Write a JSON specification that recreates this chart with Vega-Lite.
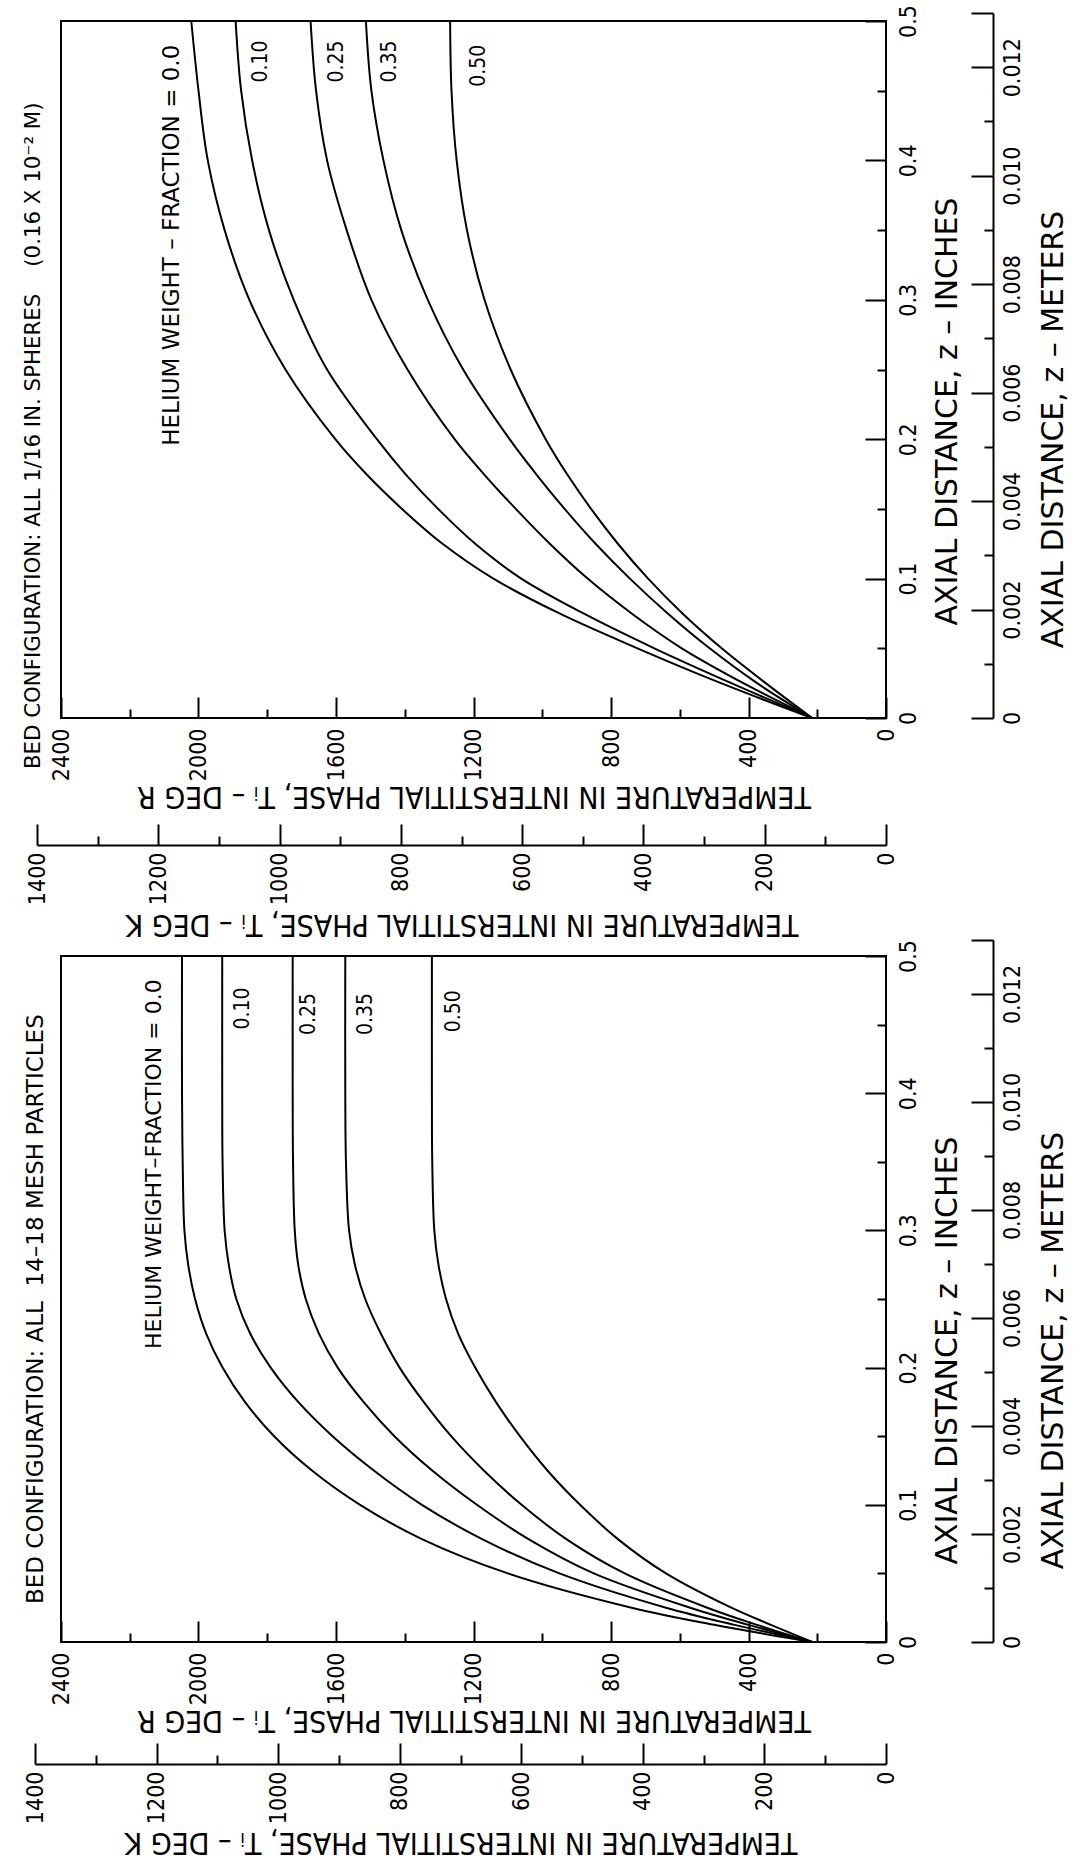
{
  "$schema": "https://vega.github.io/schema/vega-lite/v6.json",
  "padding": {"left": 21, "top": 3, "right": 0, "bottom": 0},
  "background": "white",
  "spacing": -2,
  "datasets": {
    "curves": [
      {"bed":"spheres","he":"0.0","z":0,"T":215},{"bed":"spheres","he":"0.0","z":0.025,"T":480},{"bed":"spheres","he":"0.0","z":0.05,"T":723},{"bed":"spheres","he":"0.0","z":0.075,"T":950},{"bed":"spheres","he":"0.0","z":0.1,"T":1142},{"bed":"spheres","he":"0.0","z":0.125,"T":1290},{"bed":"spheres","he":"0.0","z":0.15,"T":1408},{"bed":"spheres","he":"0.0","z":0.175,"T":1512},{"bed":"spheres","he":"0.0","z":0.2,"T":1602},{"bed":"spheres","he":"0.0","z":0.25,"T":1747},{"bed":"spheres","he":"0.0","z":0.3,"T":1852},{"bed":"spheres","he":"0.0","z":0.35,"T":1924},{"bed":"spheres","he":"0.0","z":0.4,"T":1973},{"bed":"spheres","he":"0.0","z":0.45,"T":2000},{"bed":"spheres","he":"0.0","z":0.5,"T":2021},
      {"bed":"spheres","he":"0.10","z":0,"T":215},{"bed":"spheres","he":"0.10","z":0.025,"T":450},{"bed":"spheres","he":"0.10","z":0.05,"T":674},{"bed":"spheres","he":"0.10","z":0.075,"T":880},{"bed":"spheres","he":"0.10","z":0.1,"T":1061},{"bed":"spheres","he":"0.10","z":0.125,"T":1195},{"bed":"spheres","he":"0.10","z":0.15,"T":1303},{"bed":"spheres","he":"0.10","z":0.175,"T":1398},{"bed":"spheres","he":"0.10","z":0.2,"T":1481},{"bed":"spheres","he":"0.10","z":0.25,"T":1626},{"bed":"spheres","he":"0.10","z":0.3,"T":1723},{"bed":"spheres","he":"0.10","z":0.35,"T":1795},{"bed":"spheres","he":"0.10","z":0.4,"T":1844},{"bed":"spheres","he":"0.10","z":0.45,"T":1876},{"bed":"spheres","he":"0.10","z":0.5,"T":1892},
      {"bed":"spheres","he":"0.25","z":0,"T":215},{"bed":"spheres","he":"0.25","z":0.025,"T":415},{"bed":"spheres","he":"0.25","z":0.05,"T":594},{"bed":"spheres","he":"0.25","z":0.075,"T":740},{"bed":"spheres","he":"0.25","z":0.1,"T":868},{"bed":"spheres","he":"0.25","z":0.125,"T":978},{"bed":"spheres","he":"0.25","z":0.15,"T":1077},{"bed":"spheres","he":"0.25","z":0.175,"T":1170},{"bed":"spheres","he":"0.25","z":0.2,"T":1255},{"bed":"spheres","he":"0.25","z":0.25,"T":1392},{"bed":"spheres","he":"0.25","z":0.3,"T":1497},{"bed":"spheres","he":"0.25","z":0.35,"T":1569},{"bed":"spheres","he":"0.25","z":0.4,"T":1626},{"bed":"spheres","he":"0.25","z":0.45,"T":1658},{"bed":"spheres","he":"0.25","z":0.5,"T":1674},
      {"bed":"spheres","he":"0.35","z":0,"T":215},{"bed":"spheres","he":"0.35","z":0.025,"T":375},{"bed":"spheres","he":"0.35","z":0.05,"T":513},{"bed":"spheres","he":"0.35","z":0.075,"T":635},{"bed":"spheres","he":"0.35","z":0.1,"T":745},{"bed":"spheres","he":"0.35","z":0.125,"T":845},{"bed":"spheres","he":"0.35","z":0.15,"T":935},{"bed":"spheres","he":"0.35","z":0.175,"T":1018},{"bed":"spheres","he":"0.35","z":0.2,"T":1095},{"bed":"spheres","he":"0.35","z":0.25,"T":1230},{"bed":"spheres","he":"0.35","z":0.3,"T":1333},{"bed":"spheres","he":"0.35","z":0.35,"T":1410},{"bed":"spheres","he":"0.35","z":0.4,"T":1462},{"bed":"spheres","he":"0.35","z":0.45,"T":1497},{"bed":"spheres","he":"0.35","z":0.5,"T":1513},
      {"bed":"spheres","he":"0.50","z":0,"T":215},{"bed":"spheres","he":"0.50","z":0.025,"T":350},{"bed":"spheres","he":"0.50","z":0.05,"T":478},{"bed":"spheres","he":"0.50","z":0.075,"T":592},{"bed":"spheres","he":"0.50","z":0.1,"T":692},{"bed":"spheres","he":"0.50","z":0.125,"T":780},{"bed":"spheres","he":"0.50","z":0.15,"T":858},{"bed":"spheres","he":"0.50","z":0.175,"T":928},{"bed":"spheres","he":"0.50","z":0.2,"T":990},{"bed":"spheres","he":"0.50","z":0.25,"T":1092},{"bed":"spheres","he":"0.50","z":0.3,"T":1168},{"bed":"spheres","he":"0.50","z":0.35,"T":1219},{"bed":"spheres","he":"0.50","z":0.4,"T":1249},{"bed":"spheres","he":"0.50","z":0.45,"T":1264},{"bed":"spheres","he":"0.50","z":0.5,"T":1268},
      {"bed":"mesh","he":"0.0","z":0,"T":215},{"bed":"mesh","he":"0.0","z":0.0125,"T":500},{"bed":"mesh","he":"0.0","z":0.025,"T":740},{"bed":"mesh","he":"0.0","z":0.05,"T":1100},{"bed":"mesh","he":"0.0","z":0.075,"T":1350},{"bed":"mesh","he":"0.0","z":0.1,"T":1530},{"bed":"mesh","he":"0.0","z":0.125,"T":1670},{"bed":"mesh","he":"0.0","z":0.15,"T":1780},{"bed":"mesh","he":"0.0","z":0.175,"T":1865},{"bed":"mesh","he":"0.0","z":0.2,"T":1930},{"bed":"mesh","he":"0.0","z":0.225,"T":1978},{"bed":"mesh","he":"0.0","z":0.25,"T":2010},{"bed":"mesh","he":"0.0","z":0.275,"T":2030},{"bed":"mesh","he":"0.0","z":0.3,"T":2041},{"bed":"mesh","he":"0.0","z":0.35,"T":2046},{"bed":"mesh","he":"0.0","z":0.4,"T":2048},{"bed":"mesh","he":"0.0","z":0.5,"T":2048},
      {"bed":"mesh","he":"0.10","z":0,"T":215},{"bed":"mesh","he":"0.10","z":0.0125,"T":440},{"bed":"mesh","he":"0.10","z":0.025,"T":640},{"bed":"mesh","he":"0.10","z":0.05,"T":950},{"bed":"mesh","he":"0.10","z":0.075,"T":1175},{"bed":"mesh","he":"0.10","z":0.1,"T":1350},{"bed":"mesh","he":"0.10","z":0.125,"T":1490},{"bed":"mesh","he":"0.10","z":0.15,"T":1610},{"bed":"mesh","he":"0.10","z":0.175,"T":1710},{"bed":"mesh","he":"0.10","z":0.2,"T":1790},{"bed":"mesh","he":"0.10","z":0.225,"T":1850},{"bed":"mesh","he":"0.10","z":0.25,"T":1890},{"bed":"mesh","he":"0.10","z":0.275,"T":1912},{"bed":"mesh","he":"0.10","z":0.3,"T":1924},{"bed":"mesh","he":"0.10","z":0.35,"T":1930},{"bed":"mesh","he":"0.10","z":0.4,"T":1931},{"bed":"mesh","he":"0.10","z":0.5,"T":1931},
      {"bed":"mesh","he":"0.25","z":0,"T":215},{"bed":"mesh","he":"0.25","z":0.0125,"T":400},{"bed":"mesh","he":"0.25","z":0.025,"T":570},{"bed":"mesh","he":"0.25","z":0.05,"T":850},{"bed":"mesh","he":"0.25","z":0.075,"T":1040},{"bed":"mesh","he":"0.25","z":0.1,"T":1190},{"bed":"mesh","he":"0.25","z":0.125,"T":1320},{"bed":"mesh","he":"0.25","z":0.15,"T":1430},{"bed":"mesh","he":"0.25","z":0.175,"T":1520},{"bed":"mesh","he":"0.25","z":0.2,"T":1595},{"bed":"mesh","he":"0.25","z":0.225,"T":1650},{"bed":"mesh","he":"0.25","z":0.25,"T":1688},{"bed":"mesh","he":"0.25","z":0.275,"T":1710},{"bed":"mesh","he":"0.25","z":0.3,"T":1720},{"bed":"mesh","he":"0.25","z":0.35,"T":1725},{"bed":"mesh","he":"0.25","z":0.4,"T":1726},{"bed":"mesh","he":"0.25","z":0.5,"T":1726},
      {"bed":"mesh","he":"0.35","z":0,"T":215},{"bed":"mesh","he":"0.35","z":0.0125,"T":375},{"bed":"mesh","he":"0.35","z":0.025,"T":520},{"bed":"mesh","he":"0.35","z":0.05,"T":760},{"bed":"mesh","he":"0.35","z":0.075,"T":930},{"bed":"mesh","he":"0.35","z":0.1,"T":1060},{"bed":"mesh","he":"0.35","z":0.125,"T":1170},{"bed":"mesh","he":"0.35","z":0.15,"T":1265},{"bed":"mesh","he":"0.35","z":0.175,"T":1345},{"bed":"mesh","he":"0.35","z":0.2,"T":1415},{"bed":"mesh","he":"0.35","z":0.225,"T":1470},{"bed":"mesh","he":"0.35","z":0.25,"T":1515},{"bed":"mesh","he":"0.35","z":0.275,"T":1545},{"bed":"mesh","he":"0.35","z":0.3,"T":1562},{"bed":"mesh","he":"0.35","z":0.35,"T":1571},{"bed":"mesh","he":"0.35","z":0.4,"T":1573},{"bed":"mesh","he":"0.35","z":0.5,"T":1573},
      {"bed":"mesh","he":"0.50","z":0,"T":215},{"bed":"mesh","he":"0.50","z":0.0125,"T":335},{"bed":"mesh","he":"0.50","z":0.025,"T":450},{"bed":"mesh","he":"0.50","z":0.05,"T":640},{"bed":"mesh","he":"0.50","z":0.075,"T":780},{"bed":"mesh","he":"0.50","z":0.1,"T":890},{"bed":"mesh","he":"0.50","z":0.125,"T":985},{"bed":"mesh","he":"0.50","z":0.15,"T":1065},{"bed":"mesh","he":"0.50","z":0.175,"T":1135},{"bed":"mesh","he":"0.50","z":0.2,"T":1195},{"bed":"mesh","he":"0.50","z":0.225,"T":1245},{"bed":"mesh","he":"0.50","z":0.25,"T":1280},{"bed":"mesh","he":"0.50","z":0.275,"T":1302},{"bed":"mesh","he":"0.50","z":0.3,"T":1314},{"bed":"mesh","he":"0.50","z":0.35,"T":1320},{"bed":"mesh","he":"0.50","z":0.4,"T":1321},{"bed":"mesh","he":"0.50","z":0.5,"T":1321}
    ],
    "labels": [
      {"bed":"spheres","text":"HELIUM WEIGHT – FRACTION = 0.0","T":2078,"z":0.483},
      {"bed":"spheres","text":"0.10","T":1819,"z":0.486},
      {"bed":"spheres","text":"0.25","T":1598,"z":0.486},
      {"bed":"spheres","text":"0.35","T":1444,"z":0.486},
      {"bed":"spheres","text":"0.50","T":1185,"z":0.483},
      {"bed":"mesh","text":"HELIUM WEIGHT–FRACTION = 0.0","T":2130,"z":0.483},
      {"bed":"mesh","text":"0.10","T":1871,"z":0.477},
      {"bed":"mesh","text":"0.25","T":1679,"z":0.473},
      {"bed":"mesh","text":"0.35","T":1512,"z":0.473},
      {"bed":"mesh","text":"0.50","T":1258,"z":0.475}
    ]
  },
  "vconcat": [
    {
      "width": 825,
      "height": 697,
      "data": {"name": "curves"},
      "title": {"text": "BED CONFIGURATION: ALL 1/16 IN. SPHERES\u00a0\u00a0\u00a0\u00a0(0.16 X 10⁻² M)", "orient": "left", "anchor": "start", "frame": "group", "offset": -18, "dx": -51, "fontSize": 21.3},
      "layer": [
        {
          "transform": [{"filter": "datum.bed === 'spheres'"}],
          "mark": {"type": "line", "color": "black", "strokeWidth": 2, "interpolate": "catmull-rom"},
          "encoding": {
            "x": {"field": "T", "type": "quantitative", "scale": {"domain": [0, 2400], "range": [825, 0], "nice": false},
              "axis": {"orient": "bottom", "values": [0, 400, 800, 1200, 1600, 2000, 2400], "format": "d", "tickSize": -21, "labelAngle": 270, "labelAlign": "right", "labelBaseline": "middle", "labelPadding": 31, "domain": false, "title": "TEMPERATURE IN INTERSTITIAL PHASE, Tᵢ – DEG R", "titleAngle": 180, "titleBaseline": "bottom", "titlePadding": 0}},
            "y": {"field": "z", "type": "quantitative", "scale": {"domain": [0, 0.5], "nice": false},
              "axis": {"orient": "right", "values": [0, 0.1, 0.2, 0.3, 0.4, 0.5], "format": "~g", "tickSize": -21, "labelAngle": 270, "labelAlign": "center", "labelBaseline": "top", "labelPadding": 32, "domain": false, "title": "AXIAL DISTANCE, z – INCHES", "titleFont": "DejaVu Sans", "titleAngle": 270, "titleBaseline": "top", "titlePadding": 12, "titleY": 390}},
            "detail": {"field": "he"},
            "order": {"field": "z", "type": "quantitative"}
          }
        },
        {
          "data": {"name": "labels"},
          "transform": [{"filter": "datum.bed === 'spheres' && length(datum.text) < 6"}],
          "mark": {"type": "text", "angle": 270, "align": "right", "baseline": "middle", "fontSize": 21, "font": "DejaVu Sans Condensed, DejaVu Sans"},
          "encoding": {
            "x": {"field": "T", "type": "quantitative", "scale": {"domain": [0, 2400], "range": [825, 0], "nice": false}, "axis": null},
            "y": {"field": "z", "type": "quantitative", "scale": {"domain": [0, 0.5], "nice": false}, "axis": null},
            "text": {"field": "text"}
          }
        },
        {
          "data": {"name": "labels"},
          "transform": [{"filter": "datum.bed === 'spheres' && length(datum.text) > 6"}],
          "mark": {"type": "text", "angle": 270, "align": "right", "baseline": "middle", "fontSize": 23},
          "encoding": {
            "x": {"field": "T", "type": "quantitative", "scale": {"domain": [0, 2400], "range": [825, 0], "nice": false}, "axis": null},
            "y": {"field": "z", "type": "quantitative", "scale": {"domain": [0, 0.5], "nice": false}, "axis": null},
            "text": {"field": "text"}
          }
        },
        {
          "mark": {"type": "point", "opacity": 0},
          "encoding": {
            "x": {"datum": 0, "type": "quantitative", "scale": {"domain": [0, 2400], "range": [825, 0], "nice": false},
              "axis": {"orient": "bottom", "values": [200, 600, 1000, 1400, 1800, 2200], "tickSize": -9, "labels": false, "domain": false, "title": null}},
            "y": {"datum": 0, "type": "quantitative", "scale": {"domain": [0, 0.5], "nice": false}, "axis": null}
          }
        },
        {
          "mark": {"type": "point", "opacity": 0},
          "encoding": {
            "x": {"datum": 0, "type": "quantitative", "scale": {"domain": [0, 1400], "range": [825, -24], "nice": false},
              "axis": {"orient": "bottom", "offset": 127, "values": [0, 200, 400, 600, 800, 1000, 1200, 1400], "format": "d", "tickSize": -21, "labelAngle": 270, "labelAlign": "right", "labelBaseline": "middle", "labelPadding": 28, "domain": true, "title": "TEMPERATURE IN INTERSTITIAL PHASE, Tᵢ – DEG K", "titleAngle": 180, "titleBaseline": "bottom", "titlePadding": 4}},
            "y": {"datum": 0, "type": "quantitative", "scale": {"domain": [0, 0.5], "nice": false}, "axis": null}
          }
        },
        {
          "mark": {"type": "point", "opacity": 0},
          "encoding": {
            "x": {"datum": 0, "type": "quantitative", "scale": {"domain": [0, 1400], "range": [825, -24], "nice": false},
              "axis": {"orient": "bottom", "offset": 127, "values": [100, 300, 500, 700, 900, 1100, 1300], "tickSize": -9, "labels": false, "domain": false, "title": null}},
            "y": {"datum": 0, "type": "quantitative", "scale": {"domain": [0, 0.5], "nice": false}, "axis": null}
          }
        },
        {
          "mark": {"type": "point", "opacity": 0},
          "encoding": {
            "x": {"datum": 0, "type": "quantitative", "scale": {"domain": [0, 2400], "range": [825, 0], "nice": false}, "axis": null},
            "y": {"datum": 0, "type": "quantitative", "scale": {"domain": [0, 0.5], "nice": false},
              "axis": {"orient": "right", "values": [0.05, 0.15, 0.25, 0.35, 0.45], "tickSize": -9, "labels": false, "domain": false, "title": null}}
          }
        },
        {
          "mark": {"type": "point", "opacity": 0},
          "encoding": {
            "x": {"datum": 0, "type": "quantitative", "scale": {"domain": [0, 2400], "range": [825, 0], "nice": false}, "axis": null},
            "y": {"datum": 0, "type": "quantitative", "scale": {"domain": [0, 0.013], "range": [697, -8], "nice": false},
              "axis": {"orient": "right", "offset": 107, "values": [0, 0.002, 0.004, 0.006, 0.008, 0.01, 0.012, 0.013], "labelExpr": "datum.value === 0 ? '0' : (datum.value > 0.0125 ? '' : format(datum.value, '.3f'))", "tickSize": -22, "labelAngle": 270, "labelAlign": "center", "labelBaseline": "top", "labelPadding": 30, "domain": true, "title": "AXIAL DISTANCE, z – METERS", "titleFont": "DejaVu Sans", "titleAngle": 270, "titleBaseline": "top", "titlePadding": 14, "titleY": 408}}
          }
        },
        {
          "mark": {"type": "point", "opacity": 0},
          "encoding": {
            "x": {"datum": 0, "type": "quantitative", "scale": {"domain": [0, 2400], "range": [825, 0], "nice": false}, "axis": null},
            "y": {"datum": 0, "type": "quantitative", "scale": {"domain": [0, 0.013], "range": [697, -8], "nice": false},
              "axis": {"orient": "right", "offset": 107, "values": [0.001, 0.003, 0.005, 0.007, 0.009, 0.011], "tickSize": -9, "labels": false, "domain": false, "title": null}}
          }
        }
      ],
      "resolve": {"scale": {"x": "independent", "y": "independent"}, "axis": {"x": "independent", "y": "independent"}}
    },
    {
      "width": 825,
      "height": 686,
      "data": {"name": "curves"},
      "title": {"text": "BED CONFIGURATION: ALL\u00a0\u00a014–18 MESH PARTICLES", "orient": "left", "anchor": "start", "frame": "group", "offset": -24, "dx": 38, "fontSize": 23},
      "layer": [
        {
          "transform": [{"filter": "datum.bed === 'mesh'"}],
          "mark": {"type": "line", "color": "black", "strokeWidth": 2, "interpolate": "catmull-rom"},
          "encoding": {
            "x": {"field": "T", "type": "quantitative", "scale": {"domain": [0, 2400], "range": [825, 0], "nice": false},
              "axis": {"orient": "bottom", "values": [0, 400, 800, 1200, 1600, 2000, 2400], "format": "d", "tickSize": -21, "labelAngle": 270, "labelAlign": "right", "labelBaseline": "middle", "labelPadding": 31, "domain": false, "title": "TEMPERATURE IN INTERSTITIAL PHASE, Tᵢ – DEG R", "titleAngle": 180, "titleBaseline": "bottom", "titlePadding": 0}},
            "y": {"field": "z", "type": "quantitative", "scale": {"domain": [0, 0.5], "nice": false},
              "axis": {"orient": "right", "values": [0, 0.1, 0.2, 0.3, 0.4, 0.5], "format": "~g", "tickSize": -21, "labelAngle": 270, "labelAlign": "center", "labelBaseline": "top", "labelPadding": 32, "domain": false, "title": "AXIAL DISTANCE, z – INCHES", "titleFont": "DejaVu Sans", "titleAngle": 270, "titleBaseline": "top", "titlePadding": 12, "titleY": 394}},
            "detail": {"field": "he"},
            "order": {"field": "z", "type": "quantitative"}
          }
        },
        {
          "data": {"name": "labels"},
          "transform": [{"filter": "datum.bed === 'mesh' && length(datum.text) < 6"}],
          "mark": {"type": "text", "angle": 270, "align": "right", "baseline": "middle", "fontSize": 21, "font": "DejaVu Sans Condensed, DejaVu Sans"},
          "encoding": {
            "x": {"field": "T", "type": "quantitative", "scale": {"domain": [0, 2400], "range": [825, 0], "nice": false}, "axis": null},
            "y": {"field": "z", "type": "quantitative", "scale": {"domain": [0, 0.5], "nice": false}, "axis": null},
            "text": {"field": "text"}
          }
        },
        {
          "data": {"name": "labels"},
          "transform": [{"filter": "datum.bed === 'mesh' && length(datum.text) > 6"}],
          "mark": {"type": "text", "angle": 270, "align": "right", "baseline": "middle", "fontSize": 22},
          "encoding": {
            "x": {"field": "T", "type": "quantitative", "scale": {"domain": [0, 2400], "range": [825, 0], "nice": false}, "axis": null},
            "y": {"field": "z", "type": "quantitative", "scale": {"domain": [0, 0.5], "nice": false}, "axis": null},
            "text": {"field": "text"}
          }
        },
        {
          "mark": {"type": "point", "opacity": 0},
          "encoding": {
            "x": {"datum": 0, "type": "quantitative", "scale": {"domain": [0, 2400], "range": [825, 0], "nice": false},
              "axis": {"orient": "bottom", "values": [200, 600, 1000, 1400, 1800, 2200], "tickSize": -9, "labels": false, "domain": false, "title": null}},
            "y": {"datum": 0, "type": "quantitative", "scale": {"domain": [0, 0.5], "nice": false}, "axis": null}
          }
        },
        {
          "mark": {"type": "point", "opacity": 0},
          "encoding": {
            "x": {"datum": 0, "type": "quantitative", "scale": {"domain": [0, 1400], "range": [825, -26], "nice": false},
              "axis": {"orient": "bottom", "offset": 122, "values": [0, 200, 400, 600, 800, 1000, 1200, 1400], "format": "d", "tickSize": -21, "labelAngle": 270, "labelAlign": "right", "labelBaseline": "middle", "labelPadding": 28, "domain": true, "title": "TEMPERATURE IN INTERSTITIAL PHASE, Tᵢ – DEG K", "titleAngle": 180, "titleBaseline": "bottom", "titlePadding": 3}},
            "y": {"datum": 0, "type": "quantitative", "scale": {"domain": [0, 0.5], "nice": false}, "axis": null}
          }
        },
        {
          "mark": {"type": "point", "opacity": 0},
          "encoding": {
            "x": {"datum": 0, "type": "quantitative", "scale": {"domain": [0, 1400], "range": [825, -26], "nice": false},
              "axis": {"orient": "bottom", "offset": 122, "values": [100, 300, 500, 700, 900, 1100, 1300], "tickSize": -9, "labels": false, "domain": false, "title": null}},
            "y": {"datum": 0, "type": "quantitative", "scale": {"domain": [0, 0.5], "nice": false}, "axis": null}
          }
        },
        {
          "mark": {"type": "point", "opacity": 0},
          "encoding": {
            "x": {"datum": 0, "type": "quantitative", "scale": {"domain": [0, 2400], "range": [825, 0], "nice": false}, "axis": null},
            "y": {"datum": 0, "type": "quantitative", "scale": {"domain": [0, 0.5], "nice": false},
              "axis": {"orient": "right", "values": [0.05, 0.15, 0.25, 0.35, 0.45], "tickSize": -9, "labels": false, "domain": false, "title": null}}
          }
        },
        {
          "mark": {"type": "point", "opacity": 0},
          "encoding": {
            "x": {"datum": 0, "type": "quantitative", "scale": {"domain": [0, 2400], "range": [825, 0], "nice": false}, "axis": null},
            "y": {"datum": 0, "type": "quantitative", "scale": {"domain": [0, 0.013], "range": [686, -16], "nice": false},
              "axis": {"orient": "right", "offset": 107, "values": [0, 0.002, 0.004, 0.006, 0.008, 0.01, 0.012, 0.013], "labelExpr": "datum.value === 0 ? '0' : (datum.value > 0.0125 ? '' : format(datum.value, '.3f'))", "tickSize": -22, "labelAngle": 270, "labelAlign": "center", "labelBaseline": "top", "labelPadding": 30, "domain": true, "title": "AXIAL DISTANCE, z – METERS", "titleFont": "DejaVu Sans", "titleAngle": 270, "titleBaseline": "top", "titlePadding": 14, "titleY": 394}}
          }
        },
        {
          "mark": {"type": "point", "opacity": 0},
          "encoding": {
            "x": {"datum": 0, "type": "quantitative", "scale": {"domain": [0, 2400], "range": [825, 0], "nice": false}, "axis": null},
            "y": {"datum": 0, "type": "quantitative", "scale": {"domain": [0, 0.013], "range": [686, -16], "nice": false},
              "axis": {"orient": "right", "offset": 107, "values": [0.001, 0.003, 0.005, 0.007, 0.009, 0.011], "tickSize": -9, "labels": false, "domain": false, "title": null}}
          }
        }
      ],
      "resolve": {"scale": {"x": "independent", "y": "independent"}, "axis": {"x": "independent", "y": "independent"}}
    }
  ],
  "config": {
    "view": {"stroke": "black", "strokeWidth": 2},
    "axis": {"labelFont": "DejaVu Sans Condensed, DejaVu Sans", "labelFontSize": 23, "labelColor": "black", "labelFlush": false, "labelOverlap": false, "titleFont": "DejaVu Sans Condensed, DejaVu Sans", "titleFontSize": 30, "titleFontWeight": "normal", "titleColor": "black", "tickColor": "black", "tickWidth": 2, "domainColor": "black", "domainWidth": 2, "grid": false},
    "text": {"font": "DejaVu Sans", "color": "black"},
    "title": {"font": "DejaVu Sans", "fontSize": 22, "fontWeight": "normal", "color": "black"}
  }
}
